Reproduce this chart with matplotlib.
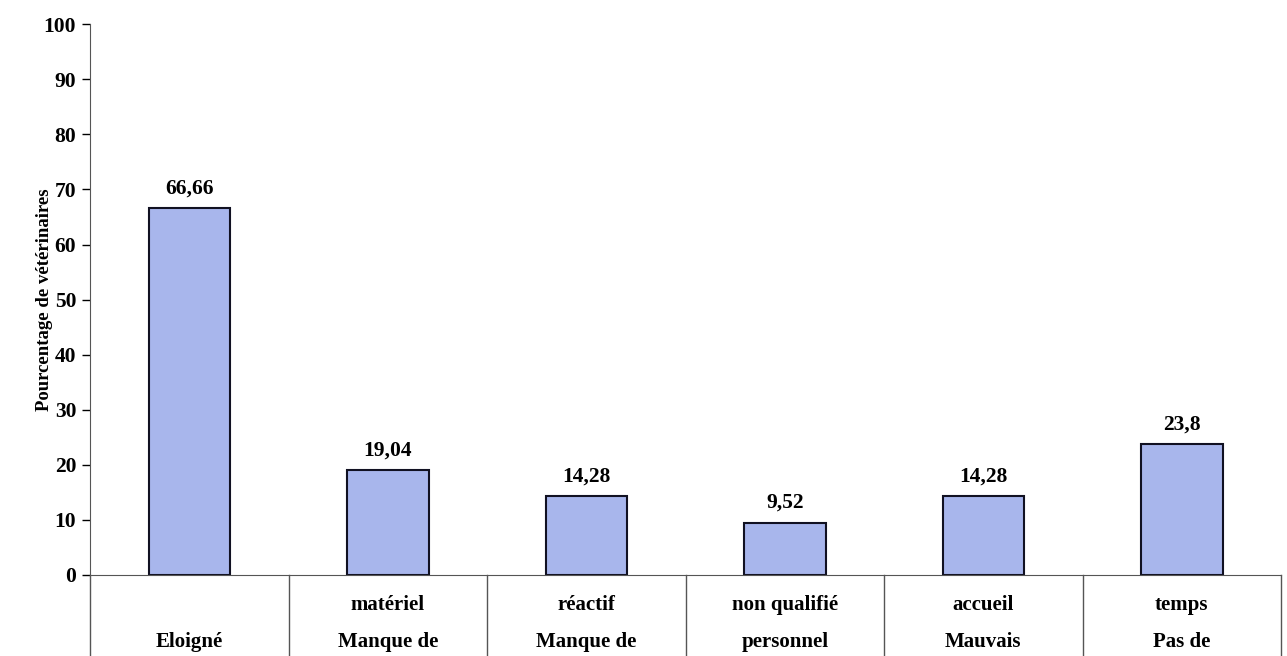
import matplotlib.pyplot as plt
import matplotlib.transforms as mtransforms

# data
ligne_haut = ["", "matériel", "réactif", "non qualifié", "accueil", "temps"]
ligne_bas = ["Eloigné", "Manque de", "Manque de", "personnel", "Mauvais", "Pas de"]
pourcentages = [66.66, 19.04, 14.28, 9.52, 14.28, 23.8]
etiquettes = ["66,66", "19,04", "14,28", "9,52", "14,28", "23,8"]

plt.rcParams['font.family'] = ['Liberation Serif', 'DejaVu Serif']
plt.rcParams['font.weight'] = 'bold'

fig = plt.figure(figsize=(12.87, 6.56), dpi=100)
ax = fig.add_axes([0.07, 0.1235, 0.9254, 0.8395])

x = list(range(len(pourcentages)))
bars = ax.bar(x, pourcentages, width=0.41, color='#a8b6ec', edgecolor='#111122', linewidth=1.5)

for b, lab in zip(bars, etiquettes):
    ax.annotate(lab, (b.get_x() + b.get_width() / 2, b.get_height()),
                xytext=(0, 7), textcoords='offset points',
                ha='center', va='bottom', fontsize=15.5, fontweight='bold')

ax.set_xlim(-0.5, 5.5)
ax.set_ylim(0, 100)
ax.set_yticks(range(0, 101, 10))
ax.tick_params(axis='y', labelsize=15.5, length=6, width=1, direction='out', pad=4)
ax.set_xticks([])
for s in ['top', 'right']:
    ax.spines[s].set_visible(False)
ax.spines['left'].set_color('#555555')
ax.spines['bottom'].set_color('#555555')
ax.set_ylabel('Pourcentage de vétérinaires', fontsize=13.5, fontweight='bold')
ax.yaxis.set_label_coords(-0.031, 0.5)

# table-like category area under the axis
trans = mtransforms.blended_transform_factory(ax.transData, ax.transAxes)
for i in range(len(pourcentages) + 1):
    ax.plot([i - 0.5, i - 0.5], [0, -0.2], transform=trans, color='#555555',
            linewidth=1, clip_on=False)
for i in range(len(pourcentages)):
    ax.text(i, -0.0544, ligne_haut[i], transform=trans, ha='center', va='center',
            fontsize=15, fontweight='bold')
    ax.text(i, -0.1216, ligne_bas[i], transform=trans, ha='center', va='center',
            fontsize=15, fontweight='bold')

fig.savefig('out.png', dpi=100)
